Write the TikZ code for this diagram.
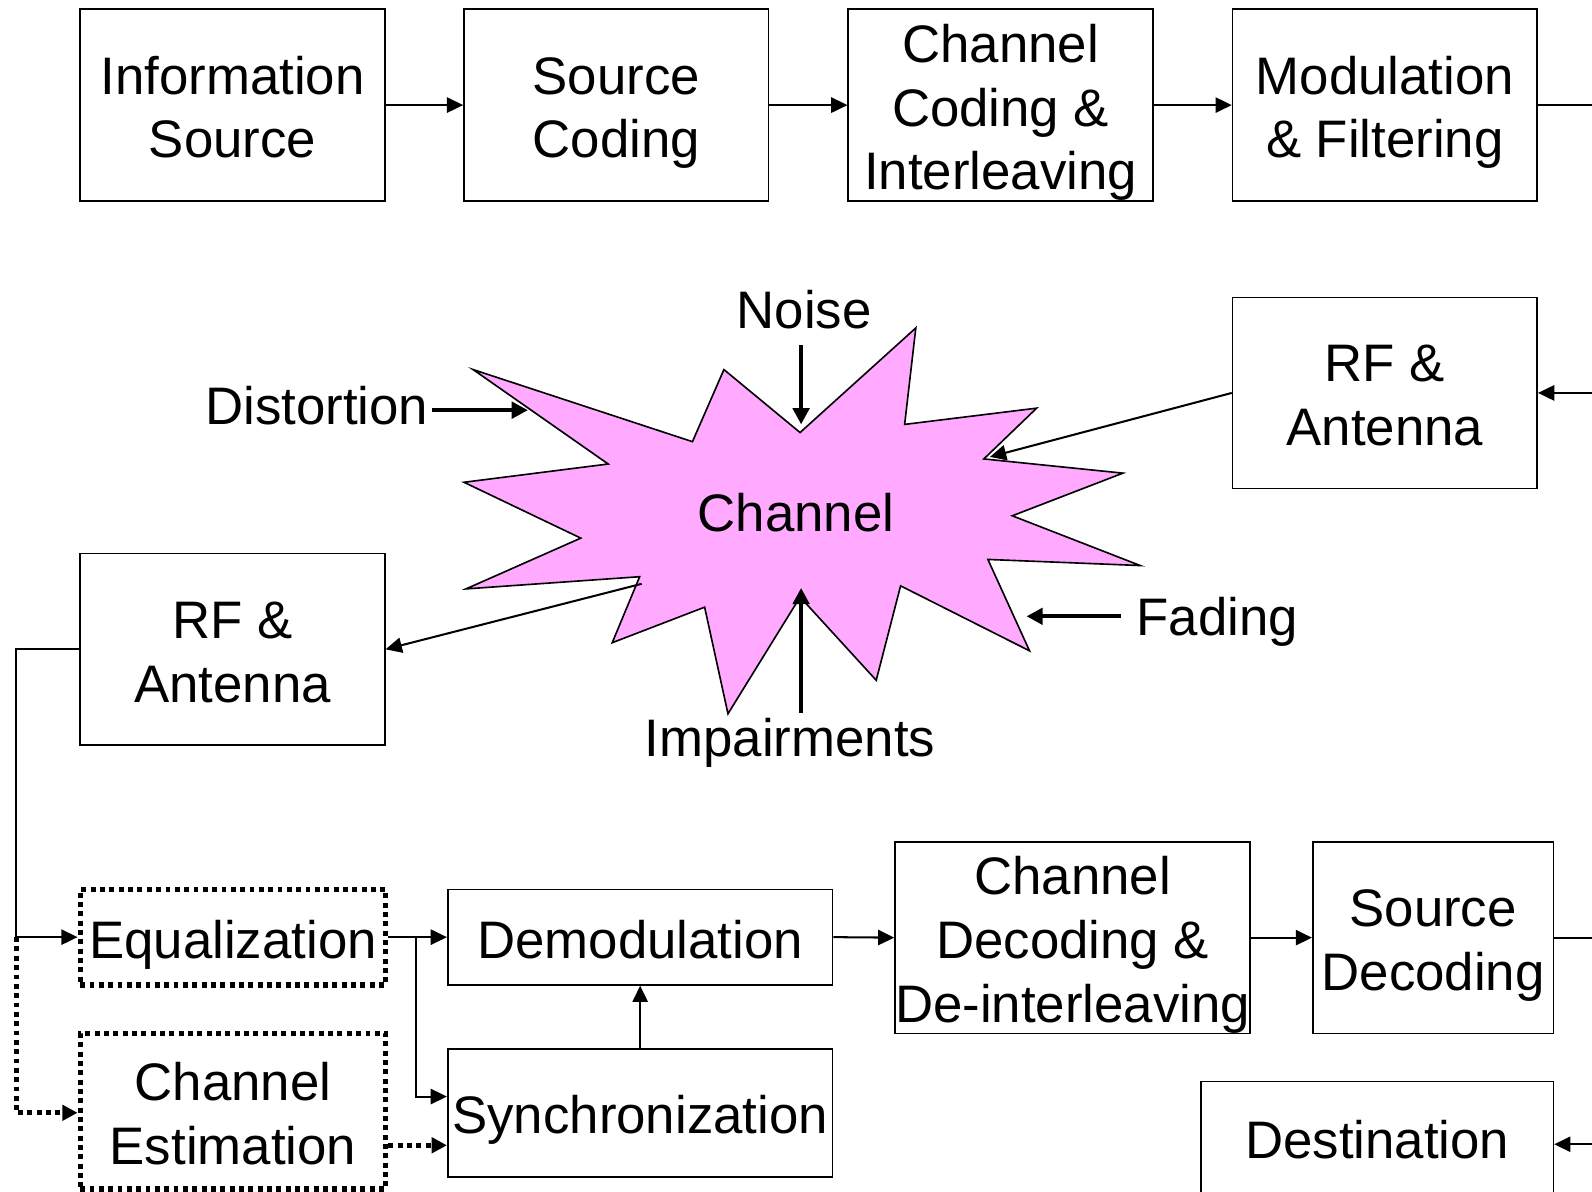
\documentclass[tikz,border=0pt]{standalone}
\usepackage{fontspec}
\setmainfont{Liberation Sans}
\usetikzlibrary{arrows.meta}
% block text: centred on the cap line, descenders ignored
\newcommand\boxlines[2]{\raisebox{0pt}[#1][0pt]{\begin{tabular}[b]{@{}c@{}}#2\end{tabular}}}
\begin{document}
\begin{tikzpicture}[x=0.5pt,y=-0.5pt,
  every node/.style={font=\fontsize{26}{31.5}\selectfont},
  blk/.style={draw, line width=0.8pt, inner sep=0pt},
  dotblk/.style={draw, line width=2.6pt, dash pattern=on 2.4pt off 2.2pt, inner sep=0pt},
  conn/.style={line width=1pt, -{Triangle[length=8pt,width=7.5pt]}},
  dotconn/.style={line width=2.6pt, dash pattern=on 2.4pt off 2.2pt, -{Triangle[length=7.5pt,width=7.5pt]}},
  imp/.style={line width=2pt, -{Triangle[length=8pt,width=8pt]}},
  lbl/.style={anchor=base, inner sep=0pt}
]
\useasboundingbox (0,0) rectangle (1568,1174);

% transmitter chain
\node[blk, minimum width=150pt, minimum height=94.5pt] (info)   at (229,103.5)  {\boxlines{52.1pt}{Information\\Source}};
\node[blk, minimum width=150pt, minimum height=94.5pt] (srccod) at (607,103.5)  {\boxlines{52.1pt}{Source\\Coding}};
\node[blk, minimum width=150pt, minimum height=94.5pt] (chcod)  at (985.5,103.5){\boxlines{83.6pt}{Channel\\Coding \&\\Interleaving}};
\node[blk, minimum width=150pt, minimum height=94.5pt] (mod)    at (1364,103.5) {\boxlines{52.1pt}{Modulation\\\& Filtering}};
\node[blk, minimum width=150pt, minimum height=94pt]   (rfr)    at (1364,387)   {\boxlines{52.1pt}{RF \&\\Antenna}};

% channel
\draw[line width=0.8pt, fill={rgb,255:red,255;green,170;blue,255}]
  (466,364) -- (682,435) -- (713,364) -- (788,426) -- (902,323) -- (891,418)
  -- (1021,402) -- (969,452) -- (1106,466) -- (997,508) -- (1123,557) -- (973,551)
  -- (1014,641) -- (887,577) -- (863,670) -- (788,588) -- (717,703) -- (694,598)
  -- (603,633) -- (630,568) -- (459,580) -- (572,530) -- (457,475) -- (599,457) -- cycle;
\node[lbl] (chan) at (784,523) {Channel};

\node[lbl] (noise)  at (792,324) {Noise};
\node[lbl] (dist)   at (312,418) {Distortion};
\node[lbl] (fade)   at (1199,626) {Fading};
\node[lbl] (impair) at (778,745) {Impairments};
\draw[imp] (789,340) -- (789,418);
\draw[imp] (425,404) -- (520,404);
\draw[imp] (1104,607) -- (1011,607);
\draw[imp] (789,702) -- (789,579);

% receiver chain
\node[blk, minimum width=150pt, minimum height=94.5pt] (rfl)    at (229,639.5)  {\boxlines{52.1pt}{RF \&\\Antenna}};
\node[dotblk, minimum width=150.5pt, minimum height=47pt]   (eq)    at (229.5,923)    {\boxlines{20.6pt}{Equalization}};
\node[dotblk, minimum width=150.5pt, minimum height=76.5pt] (chest) at (229.5,1094.5) {\boxlines{52.1pt}{Channel\\Estimation}};
\node[blk, minimum width=189.5pt, minimum height=47pt]   (demod)  at (630.5,923)   {\boxlines{20.6pt}{Demodulation}};
\node[blk, minimum width=189.5pt, minimum height=63pt]   (sync)   at (630.5,1096)  {\boxlines{20.6pt}{Synchronization}};
\node[blk, minimum width=173.5pt, minimum height=94.5pt] (chdec)  at (1056.5,923.5){\boxlines{83.6pt}{Channel\\Decoding \&\\De-interleaving}};
\node[blk, minimum width=118.5pt, minimum height=94.5pt] (srcdec) at (1411.5,923.5){\boxlines{52.1pt}{Source\\Decoding}};
\node[blk, minimum width=173.5pt, minimum height=55pt]   (dest)   at (1356.5,1120) {\boxlines{20.6pt}{Destination}};

% connectors
\coordinate (txout)  at (1568,103.5);
\coordinate (rfin)   at (1568,387);
\coordinate (chin)   at (975,450);
\coordinate (chout)  at (632,575);
\coordinate (split)  at (16,923);
\coordinate (eqsplit) at (410,923);
\coordinate (rxout)  at (1568,923.5);
\coordinate (destin) at (1568,1127);

\draw[conn] (info) -- (srccod);
\draw[conn] (srccod) -- (chcod);
\draw[conn] (chcod) -- (mod);
\draw[line width=1pt] (mod.east) -- (txout);
\draw[conn] (rfin) -- (rfr.east);
\draw[conn] (rfr.west) -- (chin);
\draw[conn] (chout) -- (rfl.east);
\draw[conn] (rfl.west) -| (split) -- (eq.west);
\draw[dotconn] (split) |- ([yshift=-0.75pt]chest.west);
\draw[conn] (eq.east) -- (demod.west);
\draw[conn] (eqsplit) |- ([yshift=8pt]sync.west);
\draw[dotconn] ([yshift=-16.75pt]chest.east) -- ([yshift=-16pt]sync.west);
\draw[conn] (sync.north) -- (demod.south);
\draw[conn] (demod.east) -- (chdec.west);
\draw[conn] (chdec.east) -- (srcdec.west);
\draw[line width=1pt] (srcdec.east) -- (rxout);
\draw[conn] (destin) -- (dest.east |- destin);
\end{tikzpicture}
\end{document}
